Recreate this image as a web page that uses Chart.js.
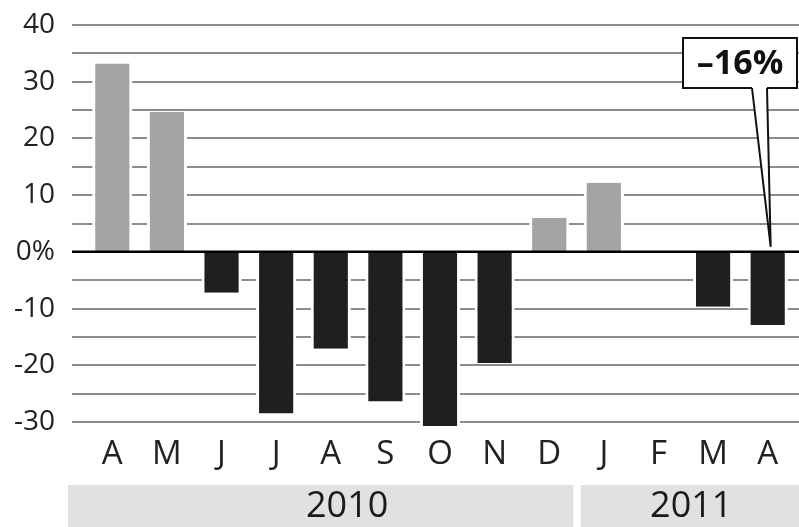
<!DOCTYPE html>
<html>
<head>
<meta charset="utf-8">
<script src="https://cdn.jsdelivr.net/npm/chart.js@4/dist/chart.umd.min.js"></script>
<style>
  html, body { margin: 0; padding: 0; background: #fff; }
  #wrap { width: 799px; height: 527px; position: relative; }
</style>
</head>
<body>
<div id="wrap"><canvas id="c" width="799" height="527"></canvas></div>
<script>
// Monthly change, in percent
const months = ['A', 'M', 'J', 'J', 'A', 'S', 'O', 'N', 'D', 'J', 'F', 'M', 'A'];
const changes = [33.2, 24.7, -7.2, -28.5, -17.1, -26.4, -30.7, -19.6, 6.0, 12.2, 0, -9.7, -12.9];

// Year groups: first and last month index, and where the year name sits
const years = ['2010', '2011'];
const yearStart = [0, 9];
const yearEnd = [8, 12];
const yearLabelAt = [4.3, 10.6];

// Callout attached to the last month
const calloutText = '–16%';
const calloutIndex = 12;

const Y_MIN = -30, Y_MAX = 40, Y_STEP = 5;

const POS_COLOR = '#a4a4a6';
const NEG_COLOR = '#1f1f1f';
const GRID_COLOR = '#8c8c8c';
const FONT = '"Open Sans", "DejaVu Sans", sans-serif';

// Horizontal rules every 5 points, drawn under the bars
const gridPlugin = {
  id: 'hgrid',
  beforeDatasetsDraw(chart) {
    const { ctx, scales: { y }, chartArea } = chart;
    ctx.save();
    ctx.strokeStyle = GRID_COLOR;
    ctx.lineWidth = 2;
    y.ticks.forEach(t => {
      if (t.value === 0) return;
      const py = Math.round(y.getPixelForValue(t.value));
      ctx.beginPath();
      ctx.moveTo(chartArea.left - 13, py);
      ctx.lineTo(chart.width, py);
      ctx.stroke();
    });
    ctx.restore();
  },
  afterDatasetsDraw(chart) {
    const { ctx, scales: { x, y }, chartArea } = chart;
    // zero line over the bars
    const p0 = y.getPixelForValue(0);
    ctx.save();
    ctx.strokeStyle = '#000';
    ctx.lineWidth = 2.5;
    ctx.beginPath();
    ctx.moveTo(chartArea.left - 13, p0);
    ctx.lineTo(chart.width, p0);
    ctx.stroke();

    // year bands under the month letters
    const catW = x.getPixelForValue(1) - x.getPixelForValue(0);
    ctx.font = '36px ' + FONT;
    ctx.textAlign = 'center';
    ctx.textBaseline = 'middle';
    years.forEach((yr, i) => {
      let left = x.getPixelForValue(yearStart[i]) - catW / 2;
      let right = x.getPixelForValue(yearEnd[i]) + catW / 2;
      left = i === 0 ? chartArea.left - 17 : left + 4;
      right = i === years.length - 1 ? chart.width : right - 3;
      ctx.fillStyle = '#e1e1e1';
      ctx.fillRect(left, 485, right - left, chart.height - 485);
      ctx.fillStyle = '#1a1a1a';
      ctx.fillText(yr, x.getPixelForValue(yearLabelAt[i]), 507);
    });

    // callout box with pointer to the bar
    const bar = chart.getDatasetMeta(0).data[calloutIndex];
    const tipX = bar.x + 3, tipY = p0 - 5;
    const bx0 = 683, by0 = 38, bx1 = chart.width - 2, by1 = 88;
    const legL = 752, legR = 767;
    ctx.fillStyle = '#fff';
    ctx.strokeStyle = '#111';
    ctx.lineWidth = 2;
    ctx.beginPath();
    ctx.moveTo(legL, by1);
    ctx.lineTo(tipX, tipY);
    ctx.lineTo(legR, by1);
    ctx.closePath();
    ctx.fill();
    ctx.beginPath();
    ctx.moveTo(legL, by1);
    ctx.lineTo(tipX, tipY);
    ctx.lineTo(legR, by1);
    ctx.stroke();
    ctx.fillRect(bx0, by0, bx1 - bx0, by1 - by0);
    ctx.beginPath();
    ctx.moveTo(legL, by1);
    ctx.lineTo(bx0, by1);
    ctx.lineTo(bx0, by0);
    ctx.lineTo(bx1, by0);
    ctx.lineTo(bx1, by1);
    ctx.lineTo(legR, by1);
    ctx.stroke();
    ctx.fillStyle = '#111';
    ctx.font = 'bold 34px ' + FONT;
    ctx.textAlign = 'center';
    ctx.textBaseline = 'middle';
    ctx.fillText(calloutText, (bx0 + bx1) / 2, (by0 + by1) / 2 + 1);
    ctx.restore();
  }
};

new Chart(document.getElementById('c'), {
  type: 'bar',
  data: {
    labels: months,
    datasets: [{
      data: changes,
      clip: false,
      backgroundColor: changes.map(v => v >= 0 ? POS_COLOR : NEG_COLOR),
      borderColor: '#ffffff',
      borderWidth: { left: 3, right: 3, top: 0, bottom: 0 },
      borderSkipped: false,
      categoryPercentage: 1,
      barPercentage: 0.735
    }]
  },
  options: {
    responsive: false,
    animation: false,
    events: [],
    layout: { padding: { top: 25, right: 4, left: 0, bottom: 0 } },
    plugins: { legend: { display: false }, tooltip: { enabled: false } },
    scales: {
      x: {
        grid: { display: false },
        border: { display: false },
        ticks: { color: '#222', font: { family: FONT, size: 33 }, padding: 5, maxRotation: 0, autoSkip: false },
        afterFit(s) { s.height = 105; }
      },
      y: {
        min: Y_MIN,
        max: Y_MAX,
        grid: { display: false },
        border: { display: false },
        ticks: {
          stepSize: Y_STEP,
          maxTicksLimit: 30,
          autoSkip: false,
          color: '#222',
          padding: 22,
          font: { family: FONT, size: 28 },
          callback: v => Math.abs(v % 10) > 1e-6 ? '' : (Math.abs(v) < 1e-6 ? '0%' : String(v))
        },
        afterFit(s) { s.width = 85; s.paddingTop = 0; s.paddingBottom = 0; }
      }
    }
  },
  plugins: [gridPlugin]
});
</script>
</body>
</html>
